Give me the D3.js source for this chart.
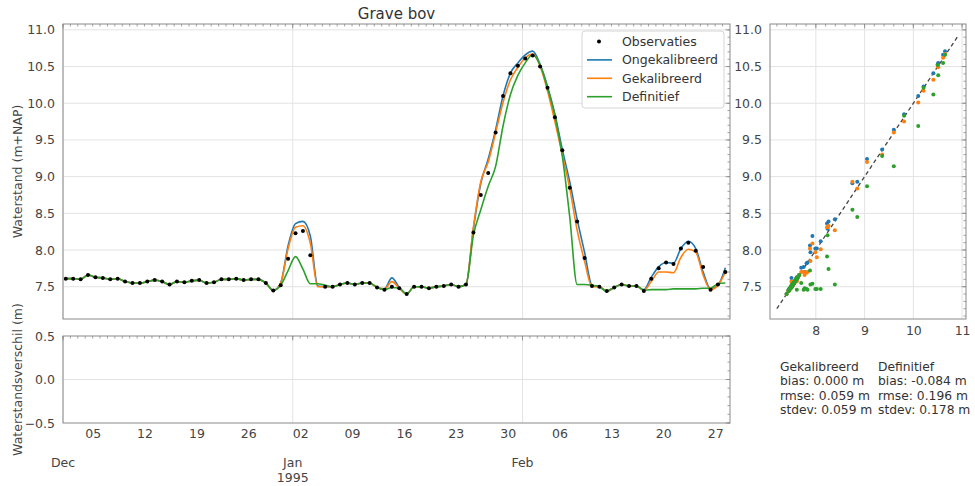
<!DOCTYPE html>
<html>
<head>
<meta charset="utf-8">
<script src="https://cdn.jsdelivr.net/npm/d3@7"></script>
<style>
body { margin: 0; background: #fff; }
svg { font-family: 'DejaVu Sans', sans-serif; }
</style>
</head>
<body>
<div id="chart"></div>
<script>
// data: one value per day, Dec 1 1994 .. Feb 28 1995, taken at 09:00
var title = 'Grave bov'
var obs = [
  7.61, 7.61, 7.60, 7.66, 7.63, 7.62, 7.60, 7.61, 7.57, 7.55,
  7.55, 7.57, 7.59, 7.57, 7.53, 7.57, 7.56, 7.58, 7.59, 7.55,
  7.56, 7.60, 7.60, 7.61, 7.59, 7.60, 7.60, 7.55, 7.45, 7.52,
  7.88, 8.23, 8.26, 7.93, null, 7.50, 7.50, 7.53, 7.55, 7.53,
  7.55, 7.55, 7.49, 7.46, 7.50, 7.48, 7.40, 7.50, 7.50, 7.48,
  7.50, 7.51, 7.53, 7.50, 7.53, 8.24, 8.75, 9.05, 9.60, 10.10,
  10.41, 10.51, 10.61, 10.65, 10.50, 10.21, 9.81, 9.36, 8.85, 8.39,
  7.89, 7.51, 7.50, 7.44, 7.49, 7.53, 7.51, 7.51, 7.44, 7.61,
  7.75, 7.83, 7.81, 8.02, 8.10, 7.99, 7.77, 7.46, 7.53, 7.70
]
var ongekalibreerd = [
  7.61, 7.61, 7.60, 7.66, 7.63, 7.62, 7.60, 7.61, 7.57, 7.55,
  7.55, 7.57, 7.59, 7.57, 7.53, 7.57, 7.56, 7.58, 7.59, 7.55,
  7.56, 7.60, 7.60, 7.61, 7.59, 7.60, 7.60, 7.55, 7.45, 7.55,
  8.06, 8.36, 8.39, 8.19, 7.51, 7.50, 7.50, 7.53, 7.55, 7.53,
  7.55, 7.55, 7.49, 7.47, 7.62, 7.49, 7.40, 7.50, 7.50, 7.48,
  7.50, 7.51, 7.53, 7.50, 7.53, 8.29, 8.91, 9.24, 9.64, 10.10,
  10.41, 10.55, 10.66, 10.71, 10.53, 10.23, 9.85, 9.37, 8.93, 8.42,
  7.97, 7.52, 7.50, 7.44, 7.49, 7.53, 7.51, 7.51, 7.46, 7.63,
  7.77, 7.83, 7.82, 8.02, 8.12, 8.02, 7.70, 7.47, 7.52, 7.76
]
var gekalibreerd = [
  7.61, 7.61, 7.60, 7.66, 7.63, 7.62, 7.60, 7.61, 7.57, 7.55,
  7.55, 7.57, 7.59, 7.57, 7.53, 7.57, 7.56, 7.58, 7.59, 7.55,
  7.56, 7.60, 7.60, 7.61, 7.59, 7.60, 7.60, 7.55, 7.45, 7.55,
  8.02, 8.31, 8.33, 8.09, 7.50, 7.50, 7.50, 7.53, 7.55, 7.53,
  7.55, 7.55, 7.49, 7.47, 7.57, 7.48, 7.40, 7.50, 7.50, 7.48,
  7.50, 7.51, 7.53, 7.50, 7.53, 8.31, 8.93, 9.20, 9.60, 10.01,
  10.32, 10.49, 10.62, 10.67, 10.51, 10.17, 9.75, 9.30, 8.84, 8.27,
  7.85, 7.50, 7.50, 7.44, 7.49, 7.53, 7.51, 7.51, 7.45, 7.57,
  7.70, 7.70, 7.69, 7.90, 8.01, 7.97, 7.66, 7.46, 7.52, 7.70
]
var definitief = [
  7.61, 7.61, 7.60, 7.66, 7.63, 7.62, 7.60, 7.61, 7.57, 7.55,
  7.55, 7.57, 7.59, 7.57, 7.53, 7.57, 7.56, 7.58, 7.59, 7.55,
  7.56, 7.60, 7.60, 7.61, 7.59, 7.60, 7.60, 7.55, 7.45, 7.52,
  7.72, 7.91, 7.74, 7.54, 7.54, 7.52, 7.50, 7.53, 7.55, 7.53,
  7.55, 7.55, 7.49, 7.46, 7.49, 7.48, 7.40, 7.50, 7.50, 7.48,
  7.50, 7.51, 7.53, 7.50, 7.53, 8.20, 8.55, 8.87, 9.14, 9.69,
  10.12, 10.38, 10.55, 10.66, 10.52, 10.21, 9.83, 9.28, 8.45, 7.53,
  7.53, 7.52, 7.50, 7.44, 7.49, 7.53, 7.51, 7.51, 7.45, 7.46,
  7.46, 7.46, 7.47, 7.47, 7.47, 7.47, 7.48, 7.48, 7.54, 7.55
]
var names = ['Observaties', 'Ongekalibreerd', 'Gekalibreerd', 'Definitief']
var colors = ['#000000', '#1f77b4', '#ff7f0e', '#2ca02c']
var yTicks = [7.5, 8.0, 8.5, 9.0, 9.5, 10.0, 10.5, 11.0]
var diffTicks = [-0.5, 0.0, 0.5]
var scatterTicks = [8, 9, 10, 11]
var diagonal = [7.2, 10.9]
var stats = [
  ['Gekalibreerd', 'bias: 0.000 m', 'rmse: 0.059 m', 'stdev: 0.059 m'],
  ['Definitief', 'bias: -0.084 m', 'rmse: 0.196 m', 'stdev: 0.178 m']
]

var t0 = new Date(Date.UTC(1994, 11, 1)),
    t1 = new Date(Date.UTC(1995, 2, 1))
var times = obs.map((d, i) => d3.utcHour.offset(d3.utcDay.offset(t0, i), 9))

// layout
var W = 975, H = 486
var m = {l: 63, r: 730, t: 24, b: 319},
    lo = {t: 336, b: 423},
    sc = {l: 770, r: 966}
var txt = '#444', spine = '#8a8a8a', gridColor = '#e3e3e3', fs = 12.5

var svg = d3.select('#chart').append('svg')
    .attr('width', W).attr('height', H)

// scales
var x = d3.scaleUtc().domain([t0, t1]).range([m.l, m.r])
var y = d3.scaleLinear().domain([7.06, 11.08]).range([m.b, m.t])
var yd = d3.scaleLinear().domain([-0.5, 0.5]).range([lo.b, lo.t])
var xs = d3.scaleLinear().domain([7.06, 11.08]).range([sc.l, sc.r])

var months = d3.utcMonth.range(t0, t1)
var mondays = d3.utcMonday.range(t0, t1)

// grid
function drawGrid(g, xs0, ys0, left, right, top, bottom) {
    g.selectAll(null).data(xs0).enter().append('line')
        .attr('x1', d => d).attr('x2', d => d).attr('y1', top).attr('y2', bottom)
        .attr('stroke', gridColor).attr('stroke-width', 1)
    g.selectAll(null).data(ys0).enter().append('line')
        .attr('x1', left).attr('x2', right).attr('y1', d => d).attr('y2', d => d)
        .attr('stroke', gridColor).attr('stroke-width', 1)
}
drawGrid(svg.append('g'), months.map(x), yTicks.map(y), m.l, m.r, m.t, m.b)
drawGrid(svg.append('g'), months.map(x), [yd(0)], m.l, m.r, lo.t, lo.b)
drawGrid(svg.append('g'), scatterTicks.map(xs), yTicks.map(y), sc.l, sc.r, m.t, m.b)

// inward ticks on top and right spines
function ticks(g, vals, major, horizontal, pos, len) {
    g.selectAll(null).data(vals).enter().append('line')
        .attr('x1', d => horizontal ? d : pos)
        .attr('x2', d => horizontal ? d : pos - (major ? len * 1.8 : len))
        .attr('y1', d => horizontal ? pos : d)
        .attr('y2', d => horizontal ? pos + (major ? len * 1.8 : len) : d)
        .attr('stroke', spine).attr('stroke-width', 0.8)
}
var days = d3.utcDay.range(t0, t1)
var minorY = d3.range(71, 111).map(d => d / 10)
var minorD = d3.range(-5, 6).map(d => d / 10)
var tk = svg.append('g')
ticks(tk, days.map(x), false, true, m.t, 2.5)
ticks(tk, months.map(x), true, true, m.t, 2.5)
ticks(tk, days.map(x), false, true, lo.t, 2.5)
ticks(tk, months.map(x), true, true, lo.t, 2.5)
ticks(tk, minorY.map(y), false, false, m.r, 2.5)
ticks(tk, yTicks.map(y), true, false, m.r, 2.5)
ticks(tk, minorD.map(yd), false, false, m.r, 2.5)
ticks(tk, diffTicks.map(yd), true, false, m.r, 2.5)
ticks(tk, minorY.map(y), false, false, sc.r, 2.5)
ticks(tk, yTicks.map(y), true, false, sc.r, 2.5)
ticks(tk, d3.range(36, 56).map(d => xs(d / 5)), false, true, m.t, 2.5)
ticks(tk, scatterTicks.map(xs), true, true, m.t, 2.5)

// axes
function styleAxis(g) {
    g.select('.domain').remove()
    g.selectAll('text').attr('fill', txt).attr('font-size', fs)
        .attr('font-family', "'DejaVu Sans', sans-serif")
    g.selectAll('.tick line').remove()
}
svg.append('g').attr('transform', `translate(${m.l},0)`)
    .call(d3.axisLeft(y).tickValues(yTicks).tickFormat(d3.format('.1f')).tickSize(0).tickPadding(8))
    .call(styleAxis)
svg.append('g').attr('transform', `translate(${m.l},0)`)
    .call(d3.axisLeft(yd).tickValues(diffTicks).tickFormat(d3.format('.1f')).tickSize(0).tickPadding(8))
    .call(styleAxis)
svg.append('g').attr('transform', `translate(0,${lo.b})`)
    .call(d3.axisBottom(x).tickValues(mondays).tickFormat(d3.utcFormat('%d')).tickSize(0).tickPadding(6))
    .call(styleAxis)
svg.append('g').attr('transform', `translate(${sc.l},0)`)
    .call(d3.axisLeft(y).tickValues(yTicks).tickFormat(d3.format('.1f')).tickSize(0).tickPadding(8))
    .call(styleAxis)
svg.append('g').attr('transform', `translate(0,${m.b})`)
    .call(d3.axisBottom(xs).tickValues(scatterTicks).tickFormat(d3.format('d')).tickSize(0).tickPadding(7))
    .call(styleAxis)

// month labels
var monthLbl = svg.append('g').attr('fill', txt).attr('font-size', fs).attr('text-anchor', 'middle')
monthLbl.selectAll(null).data(months).enter().append('text')
    .attr('x', d => x(d)).attr('y', 467)
    .text(d3.utcFormat('%b'))
monthLbl.append('text').attr('x', x(months[1])).attr('y', 482).text('1995')

// axis titles
svg.append('text').attr('transform', `translate(22,${(m.t + m.b) / 2}) rotate(-90)`)
    .attr('text-anchor', 'middle').attr('fill', txt).attr('font-size', fs)
    .text('Waterstand (m+NAP)')
svg.append('text').attr('transform', `translate(22,${(lo.t + lo.b) / 2}) rotate(-90)`)
    .attr('text-anchor', 'middle').attr('fill', txt).attr('font-size', fs)
    .text('Waterstandsverschil (m)')
svg.append('text').attr('x', (m.l + m.r) / 2).attr('y', 19)
    .attr('text-anchor', 'middle').attr('fill', '#333').attr('font-size', 15)
    .text(title)

// time series
svg.append('clipPath').attr('id', 'clip').append('rect')
    .attr('x', m.l).attr('y', m.t).attr('width', m.r - m.l).attr('height', m.b - m.t)
var line = d3.line()
    .defined(d => d[1] != null)
    .x(d => x(d[0])).y(d => y(d[1]))
    .curve(d3.curveMonotoneX)
var models = [ongekalibreerd, gekalibreerd, definitief]
var plot = svg.append('g').attr('clip-path', 'url(#clip)')
models.forEach((s, k) => {
    plot.append('path')
        .datum(s.map((v, i) => [times[i], v]))
        .attr('d', line)
        .attr('fill', 'none')
        .attr('stroke', colors[k + 1])
        .attr('stroke-width', 1.6)
})
plot.selectAll('circle.obs').data(obs.map((v, i) => [times[i], v]).filter(d => d[1] != null))
    .enter().append('circle')
    .attr('cx', d => x(d[0])).attr('cy', d => y(d[1])).attr('r', 2)
    .attr('fill', colors[0])

// scatter
var sp = svg.append('g')
sp.append('line')
    .attr('x1', xs(diagonal[0])).attr('y1', y(diagonal[0]))
    .attr('x2', xs(diagonal[1])).attr('y2', y(diagonal[1]))
    .attr('stroke', '#444').attr('stroke-width', 1.3).attr('stroke-dasharray', '4,3')
models.forEach((s, k) => {
    sp.selectAll(null).data(obs.map((v, i) => [v, s[i]]).filter(d => d[0] != null))
        .enter().append('circle')
        .attr('cx', d => xs(d[0])).attr('cy', d => y(d[1])).attr('r', 2)
        .attr('fill', colors[k + 1])
})

// spines
function frame(l, r, t, b) {
    svg.append('rect').attr('x', l).attr('y', t).attr('width', r - l).attr('height', b - t)
        .attr('fill', 'none').attr('stroke', spine).attr('stroke-width', 1)
}
frame(m.l, m.r, m.t, m.b)
frame(m.l, m.r, lo.t, lo.b)
frame(sc.l, sc.r, m.t, m.b)

// legend
var lg = svg.append('g')
lg.append('rect').attr('x', 582).attr('y', 31).attr('width', 142).attr('height', 77)
    .attr('rx', 3).attr('fill', '#fff').attr('fill-opacity', 0.85)
    .attr('stroke', '#d5d5d5')
names.forEach((n, i) => {
    var cy = 41.5 + i * 18.4
    if (i == 0) {
        lg.append('circle').attr('cx', 599).attr('cy', cy).attr('r', 2).attr('fill', colors[0])
    } else {
        lg.append('line').attr('x1', 587).attr('x2', 612).attr('y1', cy).attr('y2', cy)
            .attr('stroke', colors[i]).attr('stroke-width', 1.6)
    }
    lg.append('text').attr('x', 622).attr('y', cy + 4.5)
        .attr('fill', '#333').attr('font-size', fs).text(n)
})

// statistics
stats.forEach((col, c) => {
    col.forEach((s, r) => {
        svg.append('text').attr('x', c == 0 ? 780 : 878).attr('y', 371 + r * 14.4)
            .attr('fill', '#333').attr('font-size', 12.3).text(s)
    })
})
</script>
</body>
</html>
